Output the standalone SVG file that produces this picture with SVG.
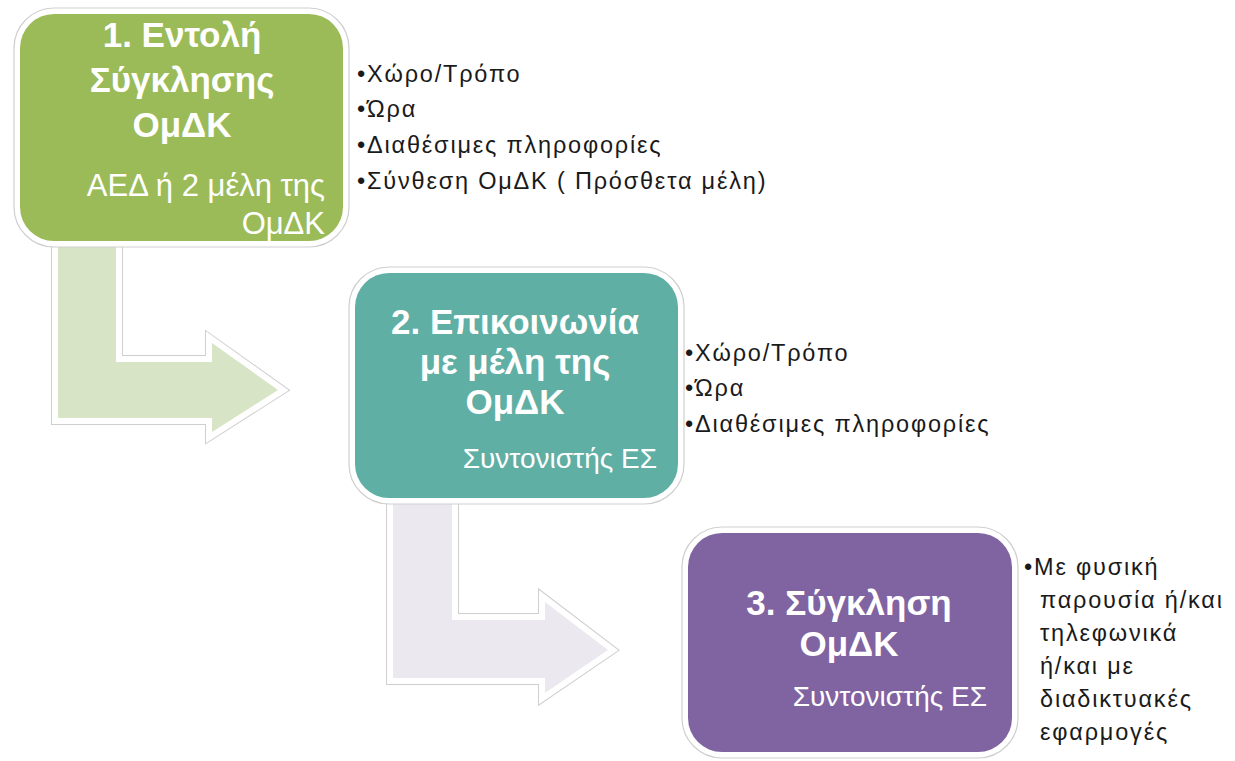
<svg xmlns="http://www.w3.org/2000/svg" width="1235" height="761" viewBox="0 0 1235 761">
<style>
.outer{fill:#fff;stroke:#cfcfcf;stroke-width:1.2}
.title{font-family:"Liberation Sans",Arial,sans-serif;font-weight:bold;font-size:35px;fill:#fff;text-anchor:middle}
.sub{font-family:"Liberation Sans",Arial,sans-serif;font-size:28px;fill:#fff;text-anchor:end}
.sub1{font-size:31px}
.bul{font-family:"Liberation Sans",Arial,sans-serif;font-size:23.5px;letter-spacing:1.8px;fill:#1a1a1a}
.arrOut{stroke:#cfcfcf;stroke-width:14;stroke-linejoin:miter;fill:none}
.arrIn{stroke:#fff;stroke-width:12;stroke-linejoin:miter;fill:none}
</style>
<rect width="1235" height="761" fill="#fff"/>
<g id="connectors">
  <g id="arrow1">
    <path class="arrOut" d="M58,240 L116,240 L116,362 L212,362 L212,343 L278,390 L212,432 L212,418 L58,418 Z"/>
    <path class="arrIn" d="M58,240 L116,240 L116,362 L212,362 L212,343 L278,390 L212,432 L212,418 L58,418 Z"/>
    <path fill="#d7e4c5" d="M58,240 L116,240 L116,362 L212,362 L212,343 L278,390 L212,432 L212,418 L58,418 Z"/>
  </g>
  <g id="arrow2">
    <path class="arrOut" d="M393,500 L452,500 L452,620 L545,620 L545,602 L608,650 L545,693 L545,678 L393,678 Z"/>
    <path class="arrIn" d="M393,500 L452,500 L452,620 L545,620 L545,602 L608,650 L545,693 L545,678 L393,678 Z"/>
    <path fill="#ebe9ef" d="M393,500 L452,500 L452,620 L545,620 L545,602 L608,650 L545,693 L545,678 L393,678 Z"/>
  </g>
</g>
<g id="node1">
  <rect class="outer" x="14" y="8" width="335" height="239" rx="40"/>
  <rect x="20" y="14" width="323" height="227" rx="34" fill="#9bbb59"/>
  <text class="title" x="182" y="47">1. Εντολή</text>
  <text class="title" x="182" y="92">Σύγκλησης</text>
  <text class="title" x="182" y="137">ΟμΔΚ</text>
  <text class="sub sub1" x="325" y="196">ΑΕΔ ή 2 μέλη της</text>
  <text class="sub sub1" x="325" y="234">ΟμΔΚ</text>
</g>
<g id="list1">
  <text class="bul" x="357" y="82">•Χώρο/Τρόπο</text>
  <text class="bul" x="357" y="117">•Ώρα</text>
  <text class="bul" x="357" y="153">•Διαθέσιμες πληροφορίες</text>
  <text class="bul" x="357" y="189">•Σύνθεση ΟμΔΚ ( Πρόσθετα μέλη)</text>
</g>
<g id="node2">
  <rect class="outer" x="349" y="267" width="335" height="237" rx="40"/>
  <rect x="355" y="273" width="323" height="225" rx="34" fill="#5fafa5"/>
  <text class="title" x="515" y="334">2. Επικοινωνία</text>
  <text class="title" x="515" y="374">με μέλη της</text>
  <text class="title" x="515" y="414">ΟμΔΚ</text>
  <text class="sub" x="657" y="468">Συντονιστής ΕΣ</text>
</g>
<g id="list2">
  <text class="bul" x="685" y="361">•Χώρο/Τρόπο</text>
  <text class="bul" x="685" y="396">•Ώρα</text>
  <text class="bul" x="685" y="432">•Διαθέσιμες πληροφορίες</text>
</g>
<g id="node3">
  <rect class="outer" x="682" y="527" width="336" height="231" rx="40"/>
  <rect x="688" y="533" width="324" height="219" rx="34" fill="#8064a2"/>
  <text class="title" x="849" y="615">3. Σύγκληση</text>
  <text class="title" x="849" y="656">ΟμΔΚ</text>
  <text class="sub" x="987" y="706">Συντονιστής ΕΣ</text>
</g>
<g id="list3">
  <text class="bul" x="1024" y="575">•Με φυσική</text>
  <text class="bul" x="1040" y="608">παρουσία ή/και</text>
  <text class="bul" x="1040" y="641">τηλεφωνικά</text>
  <text class="bul" x="1040" y="674">ή/και με</text>
  <text class="bul" x="1040" y="707">διαδικτυακές</text>
  <text class="bul" x="1040" y="740">εφαρμογές</text>
</g>
</svg>
